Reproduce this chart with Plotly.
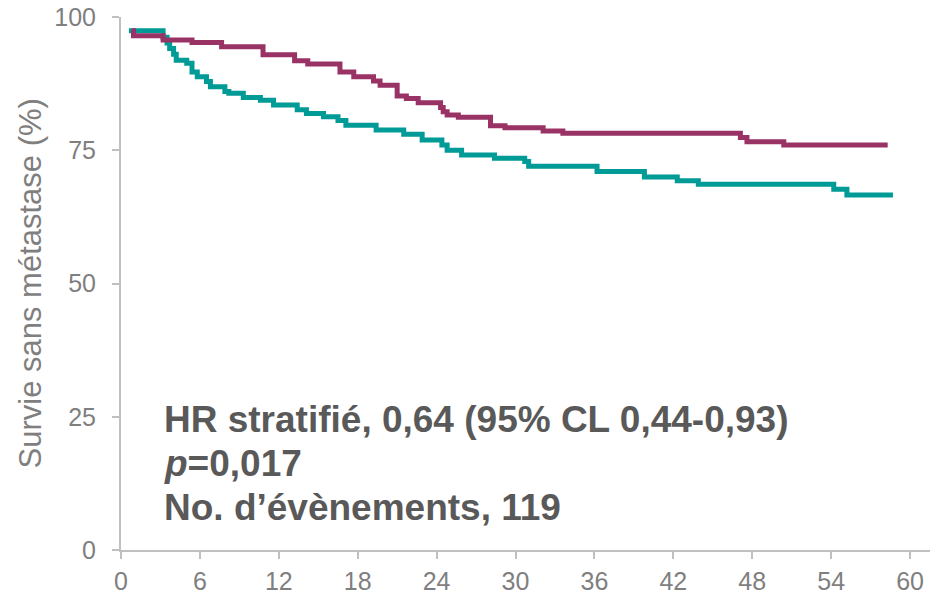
import plotly.graph_objects as go

# Kaplan-Meier curves (months, % metastasis-free survival)
purple_t = [0.8, 0.95, 3.2, 5.4, 7.65, 10.8, 13.2, 14.2, 16.65, 17.7, 19.2, 19.7, 21.0, 21.7, 22.6,
            24.3, 24.5, 24.8, 25.65, 28.1, 29.2, 32.1, 33.6, 47.1, 47.6, 50.4, 58.3]
purple_s = [97.4, 96.5, 95.7, 95.2, 94.4, 92.9, 91.8, 91.2, 89.7, 88.8, 88.0, 87.2, 85.2, 84.7, 83.9,
            83.0, 82.2, 81.6, 81.2, 79.6, 79.2, 78.6, 78.2, 77.4, 76.6, 76.0, 76.0]

teal_t = [0.6, 3.2, 3.5, 3.7, 4.0, 4.2, 5.0, 5.4, 5.8, 6.5, 6.8, 7.9, 8.2, 9.3, 10.6, 11.6, 13.4,
          14.1, 15.4, 16.5, 17.1, 19.4, 21.5, 22.9, 24.4, 24.8, 25.9, 28.4, 30.7, 31.0, 36.2,
          39.8, 42.3, 43.9, 54.2, 55.2, 58.7]
teal_s = [97.4, 96.2, 95.1, 94.1, 93.0, 91.9, 91.3, 89.7, 88.8, 87.9, 86.9, 86.0, 85.7, 84.9, 84.4,
          83.5, 82.6, 81.9, 81.3, 80.6, 79.7, 78.8, 78.0, 76.9, 76.0, 75.0, 74.1, 73.5, 72.9, 72.0,
          71.0, 70.0, 69.3, 68.6, 67.7, 66.6, 66.6]

x_ticks = [0, 6, 12, 18, 24, 30, 36, 42, 48, 54, 60]
y_ticks = [0, 25, 50, 75, 100]

y_title = "Survie sans métastase (%)"
stats_lines = ["HR stratifié, 0,64 (95% CL 0,44-0,93)", "<i>p</i>=0,017", "No. d’évènements, 119"]
stats_y = [24.45, 16.3, 7.9]

TEAL = "#009b96"
PURPLE = "#993366"
AXIS = "#c0c0c0"
TICKTXT = "#7f7f7f"
FONT = "Liberation Sans, Arial, sans-serif"

fig = go.Figure()
fig.add_trace(go.Scatter(x=teal_t, y=teal_s, mode="lines",
                         line=dict(color=TEAL, width=5, shape="hv"), showlegend=False))
fig.add_trace(go.Scatter(x=purple_t, y=purple_s, mode="lines",
                         line=dict(color=PURPLE, width=5, shape="hv"), showlegend=False))

for line, yv in zip(stats_lines, stats_y):
    fig.add_annotation(x=3.13, y=yv, xref="x", yref="y", xanchor="left", yanchor="middle",
                       text=line, showarrow=False, align="left",
                       font=dict(family=FONT, size=37, color="#595959", weight="bold"))

fig.add_annotation(x=-0.1103, y=0.5, xref="paper", yref="paper", xanchor="center", yanchor="middle",
                   text=y_title, textangle=-90, showarrow=False,
                   font=dict(family=FONT, size=31, color=TICKTXT))

fig.update_layout(
    width=930, height=586,
    margin=dict(l=113, r=1, t=9, b=44),
    paper_bgcolor="white", plot_bgcolor="white",
    font=dict(family=FONT, color=TICKTXT),
    xaxis=dict(range=[0, 62.05], tickvals=x_ticks, showgrid=False, zeroline=False, automargin=False,
               showline=True, linecolor=AXIS, linewidth=2, ticks="outside", ticklen=7,
               tickcolor=AXIS, tickwidth=2, tickfont=dict(size=25, color=TICKTXT, family=FONT),
               ticklabelstandoff=1, ticklabeloverflow="allow"),
    yaxis=dict(range=[0, 100], tickvals=y_ticks, showgrid=False, zeroline=False, automargin=False,
               showline=True, linecolor=AXIS, linewidth=2, ticks="outside", ticklen=7,
               tickcolor=AXIS, tickwidth=2, tickfont=dict(size=25, color=TICKTXT, family=FONT),
               ticklabelstandoff=11, ticklabeloverflow="allow"),
)

fig.write_html("out.html")
